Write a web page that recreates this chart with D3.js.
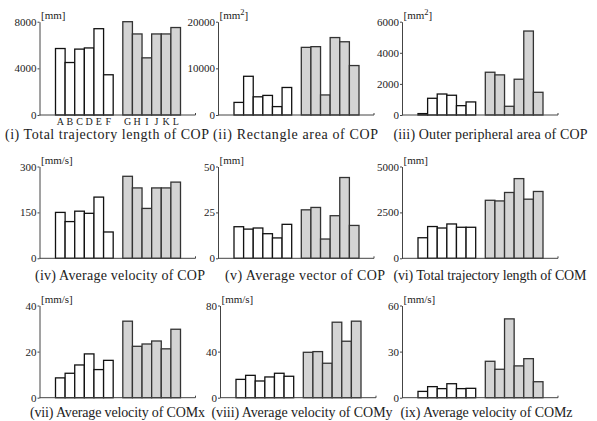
<html>
<head>
<meta charset="utf-8">
<script src="https://d3js.org/d3.v7.min.js"></script>
<style>
body { margin: 0; background: #fff; }
svg text { font-family: "Liberation Serif", "Times New Roman", Times, serif; fill: #222; }
.bar-a { fill: #fff; stroke: #111; stroke-width: 1.3; }
.bar-b { fill: #d4d4d4; stroke: #333; stroke-width: 1.3; }
.axis line, .axis path { stroke: #444; stroke-width: 1; fill: none; }
</style>
</head>
<body>
<script>
// categories (A-F white group, G-L grey group)
var cats = ["A","B","C","D","E","F","G","H","I","J","K","L"];

// values
var totalLenCOP   = [5700, 4500, 5650, 5750, 7400, 3450, 8000, 6950, 4900, 6950, 6950, 7500];
var rectAreaCOP   = [2700, 8300, 3900, 4200, 1800, 5900, 14500, 14650, 4300, 16600, 15700, 10600];
var outerAreaCOP  = [90, 1075, 1350, 1270, 600, 840, 2750, 2580, 560, 2300, 5400, 1460];
var avgVelCOP     = [150, 120, 154, 147, 200, 86, 268, 230, 163, 230, 230, 249];
var avgVecCOP     = [17.2, 15.9, 16.5, 13.4, 11.1, 18.5, 26.4, 27.7, 10.5, 23.2, 44, 17.9];
var totalLenCOM   = [1120, 1730, 1650, 1870, 1690, 1690, 3160, 3125, 3585, 4340, 3220, 3640];
var avgVelCOMx    = [8.6, 10.6, 14.2, 19, 12.2, 16.2, 33.2, 22.3, 23.3, 24.6, 21.2, 29.7];
var avgVelCOMy    = [15.9, 19.4, 14.5, 18, 21.2, 18.6, 39.4, 40, 29.9, 65.5, 49, 66.4];
var avgVelCOMz    = [4.1, 7.2, 5.9, 9.1, 5.9, 6.1, 23.7, 18.5, 51.3, 20.7, 25.4, 10.4];

// tick labels per panel
var ticks1 = [0, 4000, 8000];
var ticks2 = [0, 10000, 20000];
var ticks3 = [0, 2000, 4000, 6000];
var ticks4 = [0, 150, 300];
var ticks5 = [0, 25, 50];
var ticks6 = [0, 2500, 5000];
var ticks7 = [0, 20, 40];
var ticks8 = [0, 40, 80];
var ticks9 = [0, 30, 60];

var titles = ["(i) Total trajectory length of COP", "(ii) Rectangle area of COP",
  "(iii) Outer peripheral area of COP", "(iv) Average velocity of COP",
  "(v) Average vector of COP", "(vi) Total trajectory length of COM",
  "(vii) Average velocity of COMx", "(viii) Average velocity of COMy",
  "(ix) Average velocity of COMz"];
var units = ["[mm]", "[mm2]", "[mm2]", "[mm/s]", "[mm]", "[mm]", "[mm/s]", "[mm/s]", "[mm/s]"];

var panels = [
  {vals: totalLenCOP,  ticks: ticks1},
  {vals: rectAreaCOP,  ticks: ticks2},
  {vals: outerAreaCOP, ticks: ticks3},
  {vals: avgVelCOP,    ticks: ticks4},
  {vals: avgVecCOP,    ticks: ticks5},
  {vals: totalLenCOM,  ticks: ticks6},
  {vals: avgVelCOMx,   ticks: ticks7},
  {vals: avgVelCOMy,   ticks: ticks8},
  {vals: avgVelCOMz,   ticks: ticks9}
];

// layout
var colX = [39.5, 218, 402];          // y-axis position per column
var rowTop = [21.7, 166.5, 305.5];    // top of y-axis per row
var rowZero = [115, 258.3, 397.7];    // baseline per row
var titleY = [139, 280, 416.5];
var titleX = [107, 295.5, 490.5, 120, 305, 490, 117.5, 302, 486.5];
var titleW = [204, 165, 194, 170, 160, 193, 175, 181, 172];
var serif = "'Liberation Serif', 'Times New Roman', serif";

var svg = d3.select("body").append("svg")
    .attr("width", 597)
    .attr("height", 421);

var slots = cats.slice(0, 6).concat(["gap"]).concat(cats.slice(6));

panels.forEach(function(p, i) {
  var col = i % 3, row = Math.floor(i / 3);
  var ax = colX[col];
  if (i == 7) ax = 220;
  var top = rowTop[row], zero = rowZero[row];

  var y = d3.scaleLinear()
      .domain([0, d3.max(p.ticks)])
      .range([zero, top]);
  var x = d3.scaleBand()
      .domain(slots)
      .range([ax + 16, ax + 16 + 125])
      .padding(0);

  var g = svg.append("g");

  // bars
  g.selectAll("rect")
      .data(p.vals)
    .enter().append("rect")
      .attr("class", function(d, j) { return j < 6 ? "bar-a" : "bar-b"; })
      .attr("x", function(d, j) { return x(cats[j]); })
      .attr("width", x.bandwidth())
      .attr("y", function(d) { return y(d); })
      .attr("height", function(d) { return zero - y(d); });

  // y axis
  g.append("g")
      .attr("class", "axis")
      .attr("transform", "translate(" + ax + ",0)")
      .call(d3.axisLeft(y).tickValues(p.ticks).tickFormat(d3.format("d"))
              .tickSize(2).tickSizeOuter(0).tickPadding(1))
      .attr("font-family", serif)
      .selectAll("text")
        .style("font-size", "11px")
        .style("font-family", serif)
        .attr("fill", "#222");

  // x axis line with a small end tick
  g.append("path")
      .attr("class", "axis")
      .attr("d", "M" + ax + "," + zero + "H" + (ax + 156) + "V" + (zero - 2))
      .attr("stroke", "#444")
      .attr("fill", "none");

  // unit label
  var u = g.append("text")
      .attr("x", ax + 1.5)
      .attr("y", top - 3)
      .style("font-family", serif)
      .style("font-size", "11px");
  if (units[i] == "[mm2]") {
    u.append("tspan").text("[mm");
    u.append("tspan").attr("dy", -3.5).style("font-size", "8.5px").text("2");
    u.append("tspan").attr("dy", 3.5).text("]");
  } else {
    u.text(units[i]);
  }

  // category letters only in the first panel
  if (i == 0) {
    g.selectAll(".cat")
        .data(cats)
      .enter().append("text")
        .attr("class", "cat")
        .attr("x", function(d) { return x(d) + x.bandwidth() / 2; })
        .attr("y", zero + 10)
        .attr("text-anchor", "middle")
        .style("font-family", serif)
        .style("font-size", "10px")
        .text(function(d) { return d; });
  }

  // panel title
  g.append("text")
      .attr("x", titleX[i])
      .attr("y", titleY[row])
      .attr("text-anchor", "middle")
      .attr("textLength", titleW[i])
      .attr("lengthAdjust", "spacing")
      .style("font-family", serif)
      .style("font-size", "14px")
      .text(titles[i]);
});
</script>
</body>
</html>
